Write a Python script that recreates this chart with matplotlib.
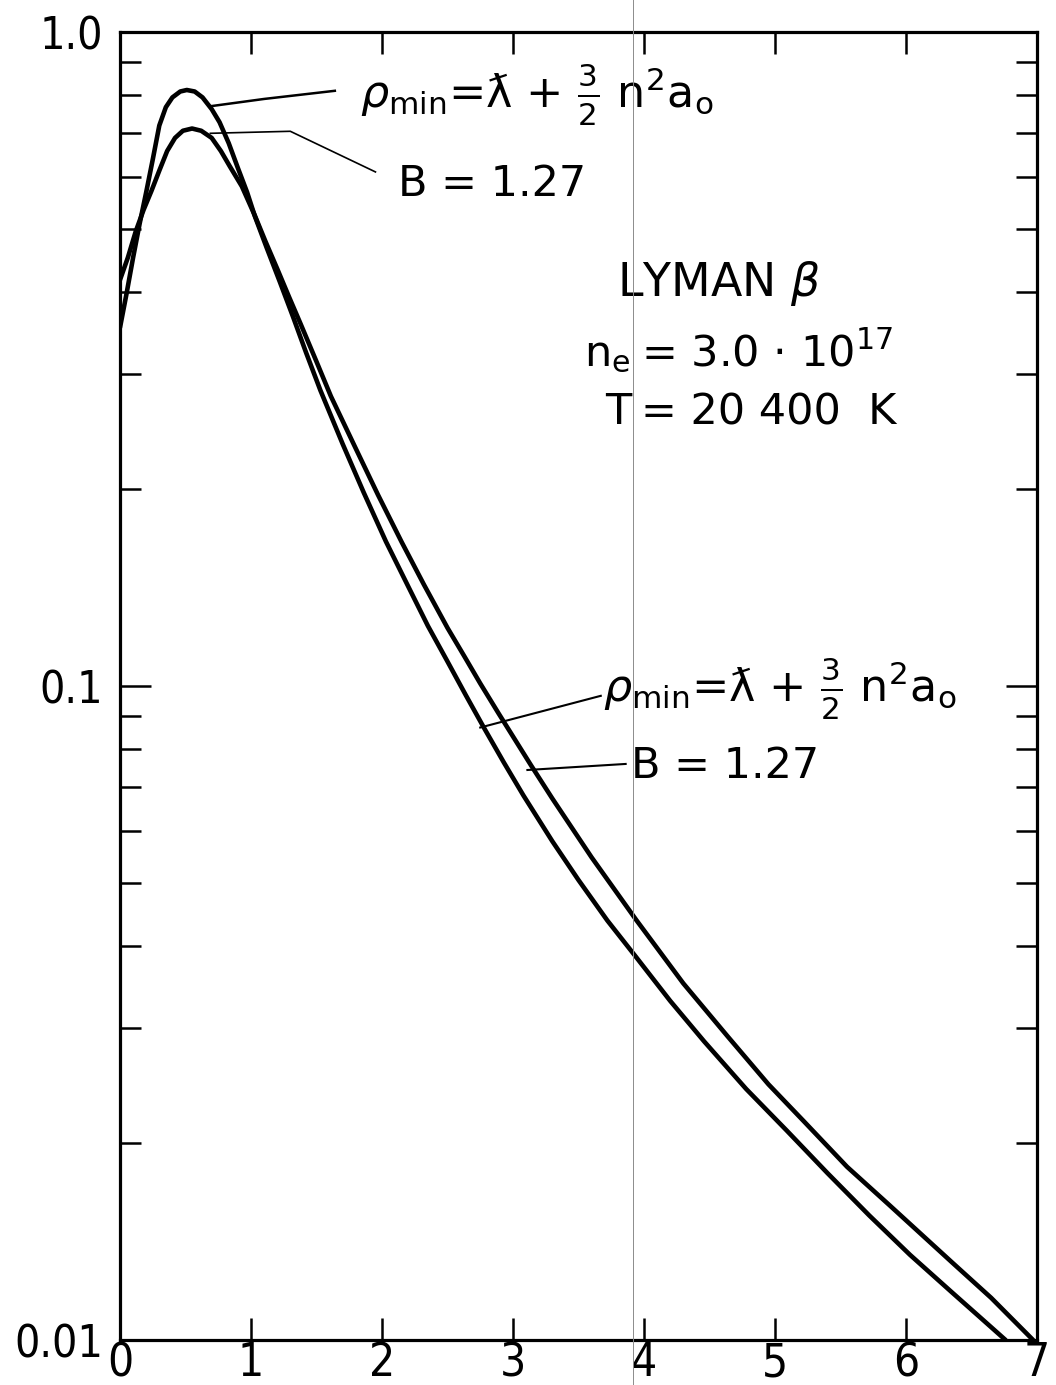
import matplotlib
matplotlib.use("Agg")
import matplotlib.pyplot as plt
from matplotlib import font_manager as fm
from matplotlib.ticker import FixedLocator, NullFormatter, FixedFormatter
from matplotlib.lines import Line2D

# --- data ---
# curve labelled  rho_min = lambda-bar + 3/2 n^2 a0
x_rho = [0.00, 0.05, 0.10, 0.15, 0.20, 0.25, 0.30, 0.35, 0.40, 0.46, 0.51, 0.57,
         0.63, 0.70, 0.76, 0.83, 0.90, 0.97, 1.03, 1.12, 1.22, 1.32, 1.42, 1.53,
         1.70, 1.86, 2.03, 2.20, 2.35, 2.50, 2.64, 2.78, 2.93, 3.08, 3.30, 3.50,
         3.72, 3.94, 4.20, 4.46, 4.78, 5.09, 5.40, 5.72, 6.03, 6.35, 6.55, 6.76]
y_rho = [0.3532, 0.3981, 0.4519, 0.5093, 0.5689, 0.6383, 0.7194, 0.7674, 0.7943, 0.8110, 0.8153, 0.8110,
         0.7943, 0.7621, 0.7278, 0.6761, 0.6194, 0.5689, 0.5224, 0.4677, 0.4150, 0.3673, 0.3236, 0.2831,
         0.2344, 0.1977, 0.1663, 0.1420, 0.1236, 0.1090, 0.0968, 0.0862, 0.0764, 0.0680, 0.0579, 0.0505,
         0.0438, 0.0385, 0.0330, 0.0286, 0.0242, 0.0209, 0.0180, 0.0155, 0.0135, 0.01183, 0.0109, 0.0100]

# curve labelled  B = 1.27
x_B = [0.00, 0.06, 0.12, 0.18, 0.24, 0.30, 0.36, 0.42, 0.48, 0.55, 0.62, 0.70,
       0.77, 0.84, 0.93, 1.03, 1.11, 1.20, 1.29, 1.38, 1.50, 1.61, 1.80, 1.97,
       2.15, 2.32, 2.50, 2.63, 2.75, 2.89, 3.14, 3.30, 3.60, 3.94, 4.30, 4.64,
       4.95, 5.22, 5.55, 5.87, 6.35, 6.65, 6.97]
y_B = [0.4178, 0.4519, 0.4955, 0.5346, 0.5715, 0.6138, 0.6577, 0.6887, 0.7063, 0.7119, 0.7063, 0.6887,
       0.6577, 0.6223, 0.5808, 0.5236, 0.4786, 0.4345, 0.3936, 0.3573, 0.3133, 0.2773, 0.2307, 0.1959,
       0.1660, 0.1429, 0.1227, 0.1109, 0.1009, 0.0908, 0.0755, 0.0673, 0.0547, 0.0439, 0.0351, 0.0291,
       0.0246, 0.0216, 0.0184, 0.0161, 0.01315, 0.0116, 0.0100]

x_ticks = [0, 1, 2, 3, 4, 5, 6, 7]
x_ticklabels = ["0", "1", "2", "3", "4", "5", "6", "7"]
y_major = [0.01, 0.1, 1.0]
y_major_labels = ["0.01", "0.1", "1.0"]
y_minor = [m * d for d in (0.01, 0.1) for m in range(2, 10)]

label_rho = r"$\rho_{\rm min}$" + "=ƛ + " + r"$\frac{3}{2}$" + " n" + r"$^2$" + "a" + r"$_{\rm o}$"
label_B = "B = 1.27"

plt.rcParams['font.family'] = ['DejaVu Sans']
plt.rcParams['mathtext.fontset'] = 'dejavusans'

# pick a narrow face for the tick numbers if one is installed
narrow_file = None
for f in fm.fontManager.ttflist:
    if f.name == 'Liberation Sans Narrow' and f.style == 'normal' and f.weight in (400, 'normal'):
        narrow_file = f.fname
        break
if narrow_file is None:
    for f in fm.fontManager.ttflist:
        if f.name == 'DejaVu Sans' and 'Condensed' in f.fname and 'Bold' not in f.fname \
                and 'Oblique' not in f.fname:
            narrow_file = f.fname
            break
if narrow_file is not None:
    tick_fp_x = fm.FontProperties(fname=narrow_file, size=33)
    tick_fp_y = fm.FontProperties(fname=narrow_file, size=32)
else:
    tick_fp_x = fm.FontProperties(family='DejaVu Sans', size=30)
    tick_fp_y = fm.FontProperties(family='DejaVu Sans', size=30)

fig = plt.figure(figsize=(10.56, 13.85), dpi=100)
ax = fig.add_axes([120/1056, 45/1385, 917/1056, 1308/1385])

ax.plot(x_rho, y_rho, color='black', lw=3.3, solid_capstyle='round', solid_joinstyle='round')
ax.plot(x_B, y_B, color='black', lw=3.3, solid_capstyle='round', solid_joinstyle='round')

ax.set_yscale('log')
ax.set_xlim(0, 7)
ax.set_ylim(0.01, 1.0)

for s in ax.spines.values():
    s.set_linewidth(2.3)

ax.xaxis.set_major_locator(FixedLocator(x_ticks))
ax.xaxis.set_major_formatter(FixedFormatter(x_ticklabels))
ax.yaxis.set_major_locator(FixedLocator(y_major))
ax.yaxis.set_major_formatter(FixedFormatter(y_major_labels))
ax.yaxis.set_minor_locator(FixedLocator(y_minor))
ax.yaxis.set_minor_formatter(NullFormatter())

ax.tick_params(axis='x', which='major', direction='in', top=True, bottom=True,
               length=16, width=1.8, pad=1)
ax.tick_params(axis='y', which='major', direction='in', left=True, right=True,
               length=22, width=1.8, pad=12)
ax.tick_params(axis='y', which='minor', direction='in', left=True, right=True,
               length=15, width=1.8)
for lab in ax.get_xticklabels():
    lab.set_fontproperties(tick_fp_x)
for lab in ax.get_yticklabels():
    lab.set_fontproperties(tick_fp_y)

# annotation texts
ax.text(1.83, 0.80, label_rho, fontsize=32, ha='left', va='center')
ax.text(2.12, 0.586, label_B, fontsize=31, ha='left', va='center')
ax.text(3.69, 0.099, label_rho, fontsize=32, ha='left', va='center')
ax.text(3.9, 0.0755, label_B, fontsize=31, ha='left', va='center')

ax.text(4.57, 0.413, r"LYMAN $\beta$", fontsize=33, ha='center', va='center')
ax.text(3.9, 0.322, r"n$_{\rm e}$", fontsize=31, ha='right', va='center')
ax.text(3.98, 0.322, r"= 3.0 $\cdot$ 10$^{17}$", fontsize=31, ha='left', va='center')
ax.text(3.9, 0.262, "T", fontsize=31, ha='right', va='center')
ax.text(3.98, 0.262, "= 20 400  K", fontsize=31, ha='left', va='center')

# pointer lines
ax.plot([0.69, 1.10, 1.64], [0.77, 0.79, 0.813], color='black', lw=1.8)
ax.plot([0.69, 1.30, 1.95], [0.70, 0.705, 0.611], color='black', lw=1.2)
ax.plot([2.75, 3.67], [0.0864, 0.0966], color='black', lw=1.5)
ax.plot([3.11, 3.86], [0.0744, 0.076], color='black', lw=1.5)

# faint scan line
fig.add_artist(Line2D([633/1056, 633/1056], [0, 1], color='0.55', lw=0.7))

fig.savefig("out.png", dpi=100)
